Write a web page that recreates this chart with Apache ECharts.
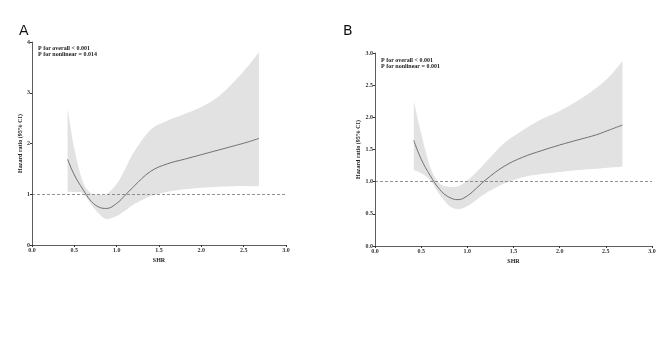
<!DOCTYPE html>
<html>
<head>
<meta charset="utf-8">
<script src="https://cdn.jsdelivr.net/npm/echarts@6/dist/echarts.min.js"></script>
<style>
  html, body { margin: 0; padding: 0; background: #fff; }
  #main { width: 669px; height: 360px; }
</style>
</head>
<body>
<div id="main"></div>
<script>
// SHR values where the spline was evaluated
var shrA = [0.42, 0.5, 0.6, 0.7, 0.8, 0.88, 1.0, 1.1, 1.2, 1.4, 1.6, 1.8, 2.0, 2.2, 2.4, 2.55, 2.68];
var hrA = [1.69, 1.38, 1.1, 0.86, 0.74, 0.72, 0.82, 0.98, 1.15, 1.45, 1.6, 1.69, 1.78, 1.87, 1.96, 2.03, 2.1];
var upperA = [2.7, 1.9, 1.25, 1.02, 0.99, 1.0, 1.2, 1.5, 1.82, 2.27, 2.45, 2.58, 2.72, 2.92, 3.24, 3.52, 3.8];
var lowerA = [1.05, 1.04, 1.02, 0.8, 0.6, 0.51, 0.57, 0.68, 0.8, 0.96, 1.05, 1.1, 1.13, 1.15, 1.16, 1.16, 1.16];

var shrB = [0.42, 0.5, 0.6, 0.7, 0.8, 0.9, 1.0, 1.1, 1.2, 1.4, 1.6, 1.8, 2.0, 2.2, 2.4, 2.55, 2.68];
var hrB = [1.64, 1.35, 1.09, 0.88, 0.76, 0.72, 0.78, 0.9, 1.03, 1.24, 1.38, 1.48, 1.57, 1.65, 1.73, 1.81, 1.88];
var upperB = [2.25, 1.75, 1.22, 0.97, 0.92, 0.93, 1.02, 1.15, 1.3, 1.6, 1.8, 1.97, 2.1, 2.26, 2.46, 2.65, 2.87];
var lowerB = [1.18, 1.13, 1.02, 0.8, 0.63, 0.57, 0.62, 0.72, 0.82, 0.97, 1.07, 1.12, 1.15, 1.18, 1.2, 1.22, 1.23];

var refLine = 1;
var pTextA = ['P for overall < 0.001', 'P for nonlinear = 0.014'];
var pTextB = ['P for overall < 0.001', 'P for nonlinear = 0.001'];

var serif = 'Liberation Serif';

function pairs(xs, ys) {
  return xs.map(function (x, i) { return [x, ys[i]]; });
}

// catmull-rom through pixel points -> bezier segments (first point excluded)
function curveTo(p) {
  var d = '';
  for (var i = 0; i < p.length - 1; i++) {
    var p0 = p[i - 1] || p[i], p1 = p[i], p2 = p[i + 1], p3 = p[i + 2] || p2;
    var c1 = [p1[0] + (p2[0] - p0[0]) / 6, p1[1] + (p2[1] - p0[1]) / 6];
    var c2 = [p2[0] - (p3[0] - p1[0]) / 6, p2[1] - (p3[1] - p1[1]) / 6];
    d += ' C' + c1[0] + ',' + c1[1] + ' ' + c2[0] + ',' + c2[1] + ' ' + p2[0] + ',' + p2[1];
  }
  return d;
}

function xAxisFor(idx) {
  return {
    type: 'value', gridIndex: idx, min: 0, max: 3, interval: 0.5, z: 5,
    name: 'SHR', nameLocation: 'middle', nameGap: 9,
    nameTextStyle: { fontFamily: serif, fontSize: 6, fontWeight: 'bold', color: '#222' },
    axisLine: { lineStyle: { color: '#333', width: 0.8 } },
    axisTick: { length: 2, lineStyle: { color: '#333' } },
    axisLabel: {
      fontFamily: serif, fontSize: 6, fontWeight: 'bold', color: '#333', margin: 2,
      formatter: function (v) { return v.toFixed(1); }
    },
    splitLine: { show: false }
  };
}
function yAxisFor(idx, max, interval, decimals) {
  return {
    type: 'value', gridIndex: idx, min: 0, max: max, interval: interval, z: 5,
    name: 'Hazard ratio (95% CI)', nameLocation: 'middle', nameGap: idx === 0 ? 8 : 14,
    nameTextStyle: { fontFamily: serif, fontSize: 6, fontWeight: 'bold', color: '#222' },
    axisLine: { show: true, lineStyle: { color: '#333', width: 0.8 } },
    axisTick: { show: true, length: 2, lineStyle: { color: '#333' } },
    axisLabel: {
      fontFamily: serif, fontSize: 6, fontWeight: 'bold', color: '#333', margin: 2,
      formatter: function (v) { return v.toFixed(decimals); }
    },
    splitLine: { show: false }
  };
}
// confidence band as one closed path, positioned through api.coord
function bandSeries(idx, xs, hi, lo) {
  return {
    type: 'custom', xAxisIndex: idx, yAxisIndex: idx, silent: true, z: 1,
    data: pairs(xs, hi),
    encode: { x: 0, y: 1 },
    renderItem: function (params, api) {
      if (params.dataIndex !== 0) return null;
      var up = xs.map(function (x, i) { return api.coord([x, hi[i]]); });
      var dn = xs.map(function (x, i) { return api.coord([x, lo[i]]); }).reverse();
      var d = 'M' + up[0][0] + ',' + up[0][1] + curveTo(up) +
        ' L' + dn[0][0] + ',' + dn[0][1] + curveTo(dn) + ' Z';
      return { type: 'path', shape: { pathData: d }, style: { fill: '#e2e2e2' } };
    }
  };
}
function curveSeries(idx, xs, ys) {
  return {
    type: 'line', xAxisIndex: idx, yAxisIndex: idx,
    data: pairs(xs, ys), smooth: 0.4, showSymbol: false,
    lineStyle: { color: '#707070', width: 1 }, z: 3,
    markLine: {
      silent: true, symbol: 'none', label: { show: false },
      lineStyle: { color: '#777', type: [3, 2], width: 0.8 },
      data: [{ yAxis: refLine }]
    }
  };
}

var chart = echarts.init(document.getElementById('main'), null, { renderer: 'canvas' });
chart.setOption({
  backgroundColor: '#fff',
  animation: false,
  grid: [
    { left: 32, right: 383, top: 42, bottom: 115 },
    { left: 375, right: 17, top: 53, bottom: 114 }
  ],
  xAxis: [xAxisFor(0), xAxisFor(1)],
  yAxis: [yAxisFor(0, 4, 1, 0), yAxisFor(1, 3, 0.5, 1)],
  graphic: [
    { type: 'text', left: 19, top: 24, style: { text: 'A', fontFamily: 'DejaVu Sans', fontSize: 14, fill: '#111' } },
    { type: 'text', left: 343, top: 24, style: { text: 'B', fontFamily: 'DejaVu Sans', fontSize: 14, fill: '#111' } },
    { type: 'text', left: 38, top: 45, style: { text: pTextA.join('\n'), fontFamily: serif, fontSize: 6, fontWeight: 'bold', fill: '#222', lineHeight: 6 } },
    { type: 'text', left: 381, top: 57, style: { text: pTextB.join('\n'), fontFamily: serif, fontSize: 6, fontWeight: 'bold', fill: '#222', lineHeight: 6 } }
  ],
  series: [
    bandSeries(0, shrA, upperA, lowerA),
    curveSeries(0, shrA, hrA),
    bandSeries(1, shrB, upperB, lowerB),
    curveSeries(1, shrB, hrB)
  ]
});
</script>
</body>
</html>
